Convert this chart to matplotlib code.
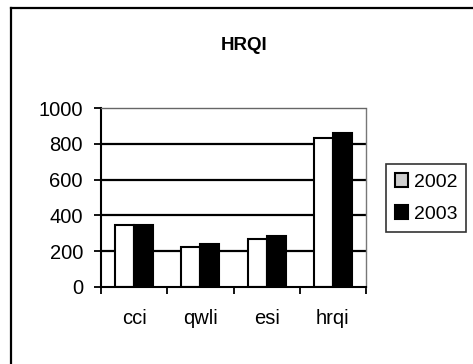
import matplotlib
matplotlib.use("Agg")
import matplotlib.pyplot as plt
import numpy as np
from matplotlib.patches import Patch
from matplotlib.lines import Line2D

categories = ["cci", "qwli", "esi", "hrqi"]
years = ["2002", "2003"]
values_2002 = [345, 225, 270, 832]
values_2003 = [345, 242, 285, 858]
y_ticks = [0, 200, 400, 600, 800, 1000]
title = "HRQI"

plt.rcParams["font.family"] = ["Liberation Sans", "DejaVu Sans"]

W, H = 473, 364
fig = plt.figure(figsize=(W / 100, H / 100), dpi=100)
fig.patch.set_facecolor("white")

# plot area in pixel coordinates
left, right, top, bottom = 101, 366, 108, 287
ax = fig.add_axes([left / W, 1 - bottom / H, (right - left) / W, (bottom - top) / H])

x = np.arange(len(categories))
w = 0.286
ax.bar(x - w / 2, values_2002, w, color="white", edgecolor="black", linewidth=1.5, zorder=3)
ax.bar(x + w / 2, values_2003, w, color="black", edgecolor="black", linewidth=1.5, zorder=3)

ax.set_xlim(-0.5, len(categories) - 0.5)
ax.set_ylim(0, 1000)
ax.set_yticks(y_ticks)
ax.set_yticklabels([str(v) for v in y_ticks], fontsize=14.5)

# category labels centered, ticks on category boundaries
ax.set_xticks(np.arange(-0.5, len(categories)), minor=False)
ax.set_xticklabels([""] * (len(categories) + 1))
ax.set_xticks(x, minor=True)
ax.set_xticklabels(categories, minor=True, fontsize=14.5)
ax.tick_params(axis="x", which="minor", length=0, pad=16)
ax.tick_params(axis="x", which="major", direction="out", length=5, width=1.3, color="black")
ax.tick_params(axis="y", direction="out", length=5, width=1.3, color="black", pad=8)

for yv in y_ticks[1:-1]:
    ax.axhline(yv, color="black", linewidth=1.6, zorder=1)

ax.spines["left"].set_linewidth(1.5)
ax.spines["bottom"].set_linewidth(1.5)
ax.spines["bottom"].set_zorder(4)
ax.spines["top"].set_color("#666666")
ax.spines["top"].set_linestyle((0, (2, 1)))
ax.spines["top"].set_linewidth(1.0)
ax.spines["right"].set_color("#777777")
ax.spines["right"].set_linestyle((0, (2, 1)))
ax.spines["right"].set_linewidth(1.0)

fig.text(244 / W, 1 - 45 / H, title, ha="center", va="center", fontsize=13.5, fontweight="bold")

handles = [
    Patch(facecolor="#cfcfcf", edgecolor="black", linewidth=1.5),
    Patch(facecolor="black", edgecolor="black", linewidth=1.5),
]
leg = fig.legend(handles, years, loc="center left", bbox_to_anchor=(386 / W, 1 - 198 / H),
                 fontsize=14, frameon=True, fancybox=False, edgecolor="black",
                 handlelength=0.7, handleheight=0.7, handletextpad=0.3,
                 labelspacing=0.75, borderpad=0.45, borderaxespad=0)
leg.get_frame().set_linewidth(1.2)

# chart frame: left and top edges
fig.add_artist(Line2D([11 / W, 11 / W], [0, 1 - 8 / H], transform=fig.transFigure,
                      color="black", linewidth=1.6))
fig.add_artist(Line2D([11 / W, 1], [1 - 8 / H, 1 - 8 / H], transform=fig.transFigure,
                      color="black", linewidth=1.6))

fig.savefig("out.png", dpi=100)
